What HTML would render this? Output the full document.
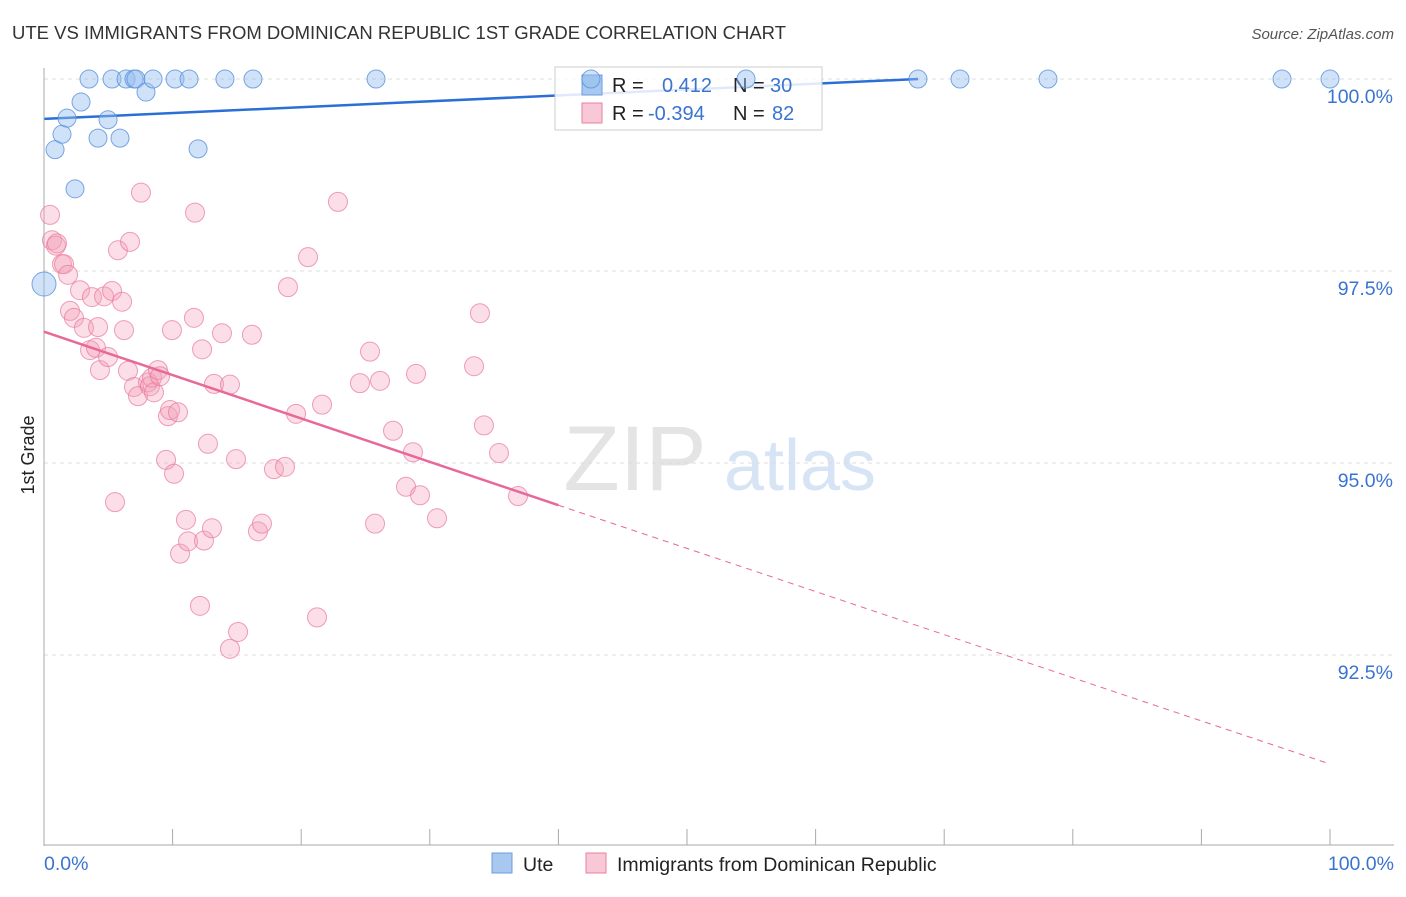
<!DOCTYPE html>
<html><head><meta charset="utf-8"><style>
body{margin:0;background:#fff;font-family:"Liberation Sans",sans-serif}
svg text{font-family:"Liberation Sans",sans-serif}
</style></head><body>
<svg id="chart" width="1406" height="892" xmlns="http://www.w3.org/2000/svg">
<text x="12" y="39" font-size="18.5" fill="#333">UTE VS IMMIGRANTS FROM DOMINICAN REPUBLIC 1ST GRADE CORRELATION CHART</text>
<text x="1394" y="39" font-size="15" fill="#555" font-style="italic" text-anchor="end">Source: ZipAtlas.com</text>
<text x="34" y="455" font-size="18" fill="#222" transform="rotate(-90 34 455)" text-anchor="middle">1st Grade</text>
<g><text x="635" y="490" font-size="92" fill="#e4e4e4" font-family="Liberation Serif" text-anchor="middle">ZIP</text><text x="800" y="490" font-size="72" fill="#d6e4f5" text-anchor="middle">atlas</text></g>
<g id="grid"></g><g id="axes"></g>
<g>
<rect x="555" y="67" width="267" height="63" fill="rgba(255,255,255,0.85)" stroke="#ccc"/>
<rect x="582" y="75" width="20" height="20" fill="#a8c8f0" stroke="#6a9de0"/>
<text x="612" y="92" font-size="20" fill="#222">R = </text><text x="662" y="92" font-size="20" fill="#3a74d0">0.412</text>
<text x="733" y="92" font-size="20" fill="#222">N = </text><text x="770" y="92" font-size="20" fill="#3a74d0">30</text>
<rect x="582" y="103" width="20" height="20" fill="#f8c8d6" stroke="#e87fa0"/>
<text x="612" y="120" font-size="20" fill="#222">R = </text><text x="648" y="120" font-size="20" fill="#3a74d0">-0.394</text>
<text x="733" y="120" font-size="20" fill="#222">N = </text><text x="772" y="120" font-size="20" fill="#3a74d0">82</text>
</g>
<g id="marks"></g>
<g>
<rect x="492" y="853" width="20" height="20" fill="#a8c8f0" stroke="#6a9de0"/>
<text x="523" y="871" font-size="19.5" fill="#222">Ute</text>
<rect x="586" y="853" width="20" height="20" fill="#f8c8d6" stroke="#e87fa0"/>
<text x="617" y="871" font-size="19.5" fill="#222">Immigrants from Dominican Republic</text>
</g>
</svg>
<script>
const yTicks=[100,97.5,95,92.5];
const yTickLabels=["100.0%","97.5%","95.0%","92.5%"];
const xTickLabels=["0.0%","100.0%"];
const uteX=[0.86,1.4,1.79,2.41,2.88,3.5,4.2,4.98,5.29,5.91,6.38,7.0,7.15,7.93,8.48,10.19,11.28,11.98,14.07,16.25,25.82,42.53,54.59,67.96,71.23,78.07,96.27,100,0];
const uteY=[99.08,99.28,99.49,98.57,99.7,100,99.23,99.47,100,99.23,100,100,100,99.83,100,100,100,99.09,100,100,100,100,100,100,100,100,100,100,97.33];
const domX=[0.47,0.62,0.93,1.01,1.4,1.56,1.87,2.02,2.33,2.8,3.11,3.58,3.73,4.04,4.2,4.35,4.67,4.98,5.29,5.52,5.75,6.07,6.22,6.53,6.69,7.0,7.31,7.54,8.09,8.24,8.4,8.55,8.86,9.02,9.49,9.64,9.8,9.95,10.11,10.42,10.58,11.04,11.2,11.66,11.74,12.13,12.29,12.44,12.75,13.06,13.22,13.84,14.46,14.46,14.93,15.09,16.17,16.64,16.95,17.88,18.74,18.97,19.6,20.53,21.23,21.62,22.86,24.57,25.35,25.74,26.13,27.14,28.15,28.69,28.93,29.24,30.56,33.44,33.9,34.21,35.38,36.86];
const domY=[98.23,97.9,97.83,97.86,97.59,97.59,97.45,96.98,96.89,97.25,96.76,96.47,97.16,96.5,96.77,96.21,97.17,96.38,97.24,94.49,97.77,97.1,96.73,96.2,97.88,95.99,95.87,98.52,96.05,96.0,96.11,95.92,96.21,96.13,95.04,95.61,95.69,96.73,94.86,95.66,93.82,94.26,93.98,96.89,98.26,93.14,96.48,93.99,95.25,94.15,96.03,96.69,96.02,92.58,95.05,92.8,96.67,94.11,94.21,94.92,94.95,97.29,95.64,97.68,92.99,95.76,98.4,96.04,96.45,94.21,96.07,95.42,94.69,95.14,96.16,94.58,94.28,96.26,96.95,95.49,95.13,94.57];
const uteTrend=[[0,99.48],[67.96,100]];
const domTrend=[[0,96.71],[40,94.45],[100,91.08]];
const NS="http://www.w3.org/2000/svg";
const X=v=>44+v*12.86, Y=v=>79+(100-v)*76.8;
function mk(t,a,p){const e=document.createElementNS(NS,t);for(const k in a)e.setAttribute(k,a[k]);document.getElementById(p).appendChild(e);return e;}
yTicks.forEach((t,i)=>{
 const g=mk('line',{x1:44,x2:1394,y1:Y(t),y2:Y(t),stroke:'#ddd','stroke-dasharray':'4,4'},'grid');
 
 
 const l=mk('text',{x:1393,y:Y(t)+24,'font-size':19.5,fill:'#3a74d0','text-anchor':'end'},'axes');
 l.textContent=yTickLabels[i];
 
 
});
const ax=mk('line',{x1:44,x2:44,y1:68,y2:846,stroke:'#aaa'},'axes');


const bx=mk('line',{x1:44,x2:1394,y1:845,y2:845,stroke:'#aaa'},'axes');


for(let i=0;i<=10;i++){const t=mk('line',{x1:X(i*10),x2:X(i*10),y1:829,y2:845,stroke:'#aaa'},'axes');
 
 }
[[0,'start',44],[100,'end',1394]].forEach((d,i)=>{const t=mk('text',{x:d[2],y:870,'font-size':19.5,fill:'#3a74d0','text-anchor':d[1]},'axes');t.textContent=xTickLabels[i];
 
 });
domX.forEach((x,i)=>{const c=mk('circle',{cx:X(x),cy:Y(domY[i]),r:9.5,fill:'rgba(244,160,186,0.35)',stroke:'rgba(232,120,155,0.7)','stroke-width':1},'marks');
 
 });
uteX.forEach((x,i)=>{const c=mk('circle',{cx:X(x),cy:Y(uteY[i]),r:i==uteX.length-1?12:9,fill:'rgba(150,190,240,0.45)',stroke:'rgba(90,145,220,0.8)','stroke-width':1},'marks');
 
 });
const ut=mk('line',{x1:X(uteTrend[0][0]),y1:Y(uteTrend[0][1]),x2:X(uteTrend[1][0]),y2:Y(uteTrend[1][1]),stroke:'#2a6fd6','stroke-width':2.5},'grid');


const d1=mk('line',{x1:X(domTrend[0][0]),y1:Y(domTrend[0][1]),x2:X(domTrend[1][0]),y2:Y(domTrend[1][1]),stroke:'#e8689a','stroke-width':2.5},'marks');


const d2=mk('line',{x1:X(domTrend[1][0]),y1:Y(domTrend[1][1]),x2:X(domTrend[2][0]),y2:Y(domTrend[2][1]),stroke:'#e8689a','stroke-width':1,'stroke-dasharray':'6,5'},'marks');


</script>
</body></html>
